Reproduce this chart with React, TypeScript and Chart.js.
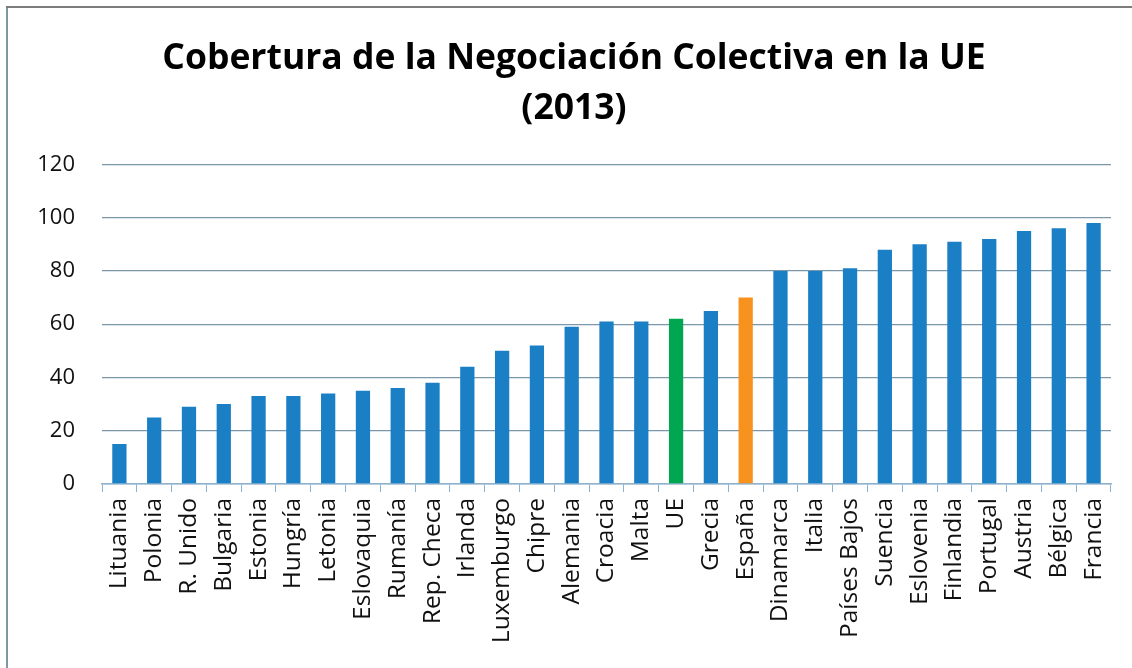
import React, { useEffect, useRef } from "react";
import { Chart, registerables } from "chart.js";

Chart.register(...registerables);

const titleLines = ["Cobertura de la Negociación Colectiva en la UE", "(2013)"];

const categories = [
  "Lituania", "Polonia", "R. Unido", "Bulgaria", "Estonia", "Hungría", "Letonia",
  "Eslovaquia", "Rumanía", "Rep. Checa", "Irlanda", "Luxemburgo", "Chipre", "Alemania",
  "Croacia", "Malta", "UE", "Grecia", "España", "Dinamarca", "Italia", "Países Bajos",
  "Suencia", "Eslovenia", "Finlandia", "Portugal", "Austria", "Bélgica", "Francia",
];

const coverage = [
  15, 25, 29, 30, 33, 33, 34, 35, 36, 38, 44, 50, 52, 59, 61, 61, 62, 65, 70, 80,
  80, 81, 88, 90, 91, 92, 95, 96, 98,
];

const yTicks = [0, 20, 40, 60, 80, 100, 120];

const BLUE = "#1b7fc5";
const GREEN = "#00a650";
const ORANGE = "#f7921f";

export default function App() {
  const ref = useRef<HTMLCanvasElement | null>(null);

  useEffect(() => {
    document.body.style.margin = "0";
    const canvas = ref.current;
    if (!canvas) return;
    const colors = categories.map((c) => (c === "UE" ? GREEN : c === "España" ? ORANGE : BLUE));
    const chart = new Chart(canvas, {
      type: "bar",
      data: {
        labels: categories,
        datasets: [
          {
            data: coverage,
            backgroundColor: colors,
            borderWidth: 0,
            categoryPercentage: 1,
            barPercentage: 0.41,
          },
        ],
      },
      options: {
        animation: false,
        responsive: false,
        devicePixelRatio: 1,
        layout: { padding: { top: 10, right: 21, left: 37, bottom: 0 } },
        plugins: {
          legend: { display: false },
          tooltip: { enabled: false },
          title: {
            display: true,
            text: titleLines,
            color: "#000000",
            font: { family: "'Open Sans'", size: 35.5, weight: "bold", lineHeight: 1.4 },
            padding: { top: 24, bottom: 31 },
          },
        },
        scales: {
          x: {
            border: { display: true, color: "#8fb3cf", width: 1.5 },
            grid: {
              display: true,
              drawOnChartArea: false,
              drawTicks: true,
              tickLength: 8,
              color: "#8fb3cf",
              offset: true,
            },
            ticks: {
              autoSkip: false,
              maxRotation: 90,
              minRotation: 90,
              padding: 6,
              color: "#111111",
              font: { family: "'Open Sans'", size: 24.5 },
            },
            afterFit: (scale: any) => {
              scale.height = 184;
            },
          },
          y: {
            min: 0,
            max: 120,
            afterBuildTicks: (scale: any) => {
              scale.ticks = yTicks.map((v) => ({ value: v }));
            },
            border: { display: false },
            grid: {
              color: "#7a98aa",
              lineWidth: 1.3,
              drawTicks: false,
            },
            ticks: {
              padding: 27,
              color: "#111111",
              font: { family: "'Open Sans'", size: 22 },
            },
            afterFit: (scale: any) => {
              scale.width = 65;
            },
          },
        },
      },
    });
    return () => chart.destroy();
  }, []);

  return (
    <div style={{ position: "fixed", left: 0, top: 0, width: 1132, height: 668, background: "#ffffff" }}>
      <canvas ref={ref} width={1132} height={668} style={{ position: "absolute", left: 0, top: 0 }} />
      <div style={{ position: "absolute", left: 6, top: 6, width: 2, height: 662, background: "#7d98a4" }} />
      <div style={{ position: "absolute", left: 6, top: 6, width: 1126, height: 2, background: "#7c7c7c" }} />
    </div>
  );
}
